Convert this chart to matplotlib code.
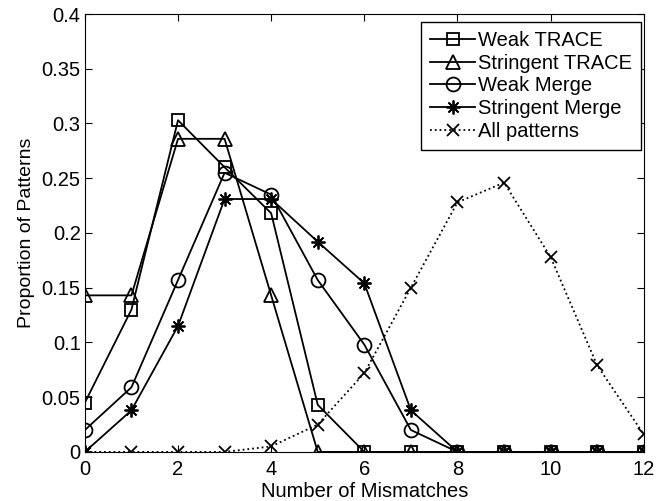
import matplotlib.pyplot as plt
import numpy as np

plt.rcParams['font.family'] = ['Liberation Sans', 'DejaVu Sans']

mismatches = np.arange(0, 13)

weak_trace = [0.045, 0.13, 0.303, 0.26, 0.218, 0.043, 0, 0, 0, 0, 0, 0, 0]
stringent_trace = [0.143, 0.143, 0.286, 0.286, 0.143, 0, 0, 0, 0, 0, 0, 0, 0]
weak_merge = [0.02, 0.059, 0.157, 0.255, 0.235, 0.157, 0.098, 0.02, 0, 0, 0, 0, 0]
stringent_merge = [0, 0.038, 0.115, 0.231, 0.231, 0.192, 0.154, 0.038, 0, 0, 0, 0, 0]
all_patterns = [0, 0, 0, 0, 0.005, 0.025, 0.072, 0.15, 0.228, 0.246, 0.178, 0.079, 0.016]

fig = plt.figure(figsize=(6.63, 5.01), dpi=100)
ax = fig.add_axes([0.128, 0.098, 0.843, 0.874])

kw = dict(color='black', linewidth=1.3, markerfacecolor='none',
          markeredgecolor='black', markeredgewidth=1.3)
ax.plot(mismatches, weak_trace, marker='s', markersize=8, label='Weak TRACE', **kw)
ax.plot(mismatches, stringent_trace, marker='^', markersize=10, label='Stringent TRACE', **kw)
ax.plot(mismatches, weak_merge, marker='o', markersize=10, label='Weak Merge', **kw)
# asterisco no estilo MATLAB
ax.plot(mismatches, stringent_merge, marker=(8, 2, 0), markersize=10,
        label='Stringent Merge', **kw)
ax.plot(mismatches, all_patterns, marker='x', markersize=8, linestyle=':',
        label='All patterns', **kw)

ax.set_xlim(0, 12)
ax.set_ylim(0, 0.4)
ax.set_xticks(range(0, 13, 2))
ax.set_xticklabels([str(v) for v in range(0, 13, 2)])
ax.set_yticks(np.arange(0, 0.41, 0.05))
ax.set_yticklabels(['0', '0.05', '0.1', '0.15', '0.2', '0.25', '0.3', '0.35', '0.4'])
ax.tick_params(direction='in', labelsize=14.5, top=True, right=True, length=5)
ax.tick_params(axis='x', pad=6)
ax.tick_params(axis='y', pad=3)
ax.set_xlabel('Number of Mismatches', fontsize=14.5, labelpad=2)
ax.set_ylabel('Proportion of Patterns', fontsize=14, labelpad=5)

leg = ax.legend(loc='upper right', bbox_to_anchor=(0.9946, 0.9817), borderaxespad=0,
                fontsize=14.5, fancybox=False, edgecolor='black',
                framealpha=1, handlelength=2.2, handletextpad=0.15, labelspacing=0.18,
                borderpad=0.45)
leg.get_frame().set_linewidth(1.0)

fig.savefig('out.png', dpi=100)
